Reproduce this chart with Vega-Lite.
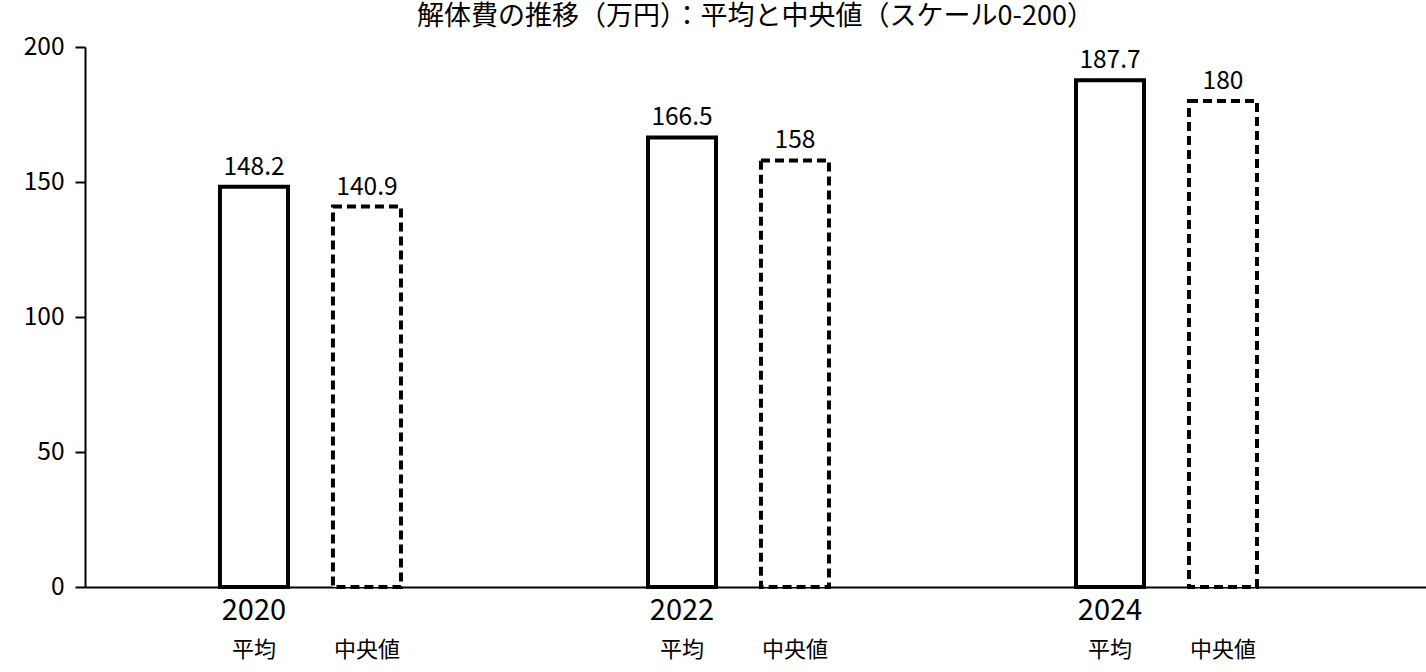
{
  "$schema": "https://vega.github.io/schema/vega-lite/v6.json",
  "autosize": "none",
  "width": 1341,
  "height": 540,
  "padding": {"left": 85, "top": 47, "right": 0, "bottom": 85},
  "background": "white",
  "config": {
    "font": "Noto Sans CJK JP",
    "view": {"stroke": null},
    "axis": {"labelColor": "black", "domainColor": "black", "tickColor": "black", "grid": false}
  },
  "title": {
    "text": "解体費の推移（万円）：平均と中央値（スケール0-200）",
    "fontSize": 27,
    "fontWeight": "normal",
    "color": "black",
    "anchor": "middle",
    "offset": 3
  },
  "data": {
    "values": [
      {"year": "2020", "type": "平均", "value": 148.2},
      {"year": "2020", "type": "中央値", "value": 140.9},
      {"year": "2022", "type": "平均", "value": 166.5},
      {"year": "2022", "type": "中央値", "value": 158},
      {"year": "2024", "type": "平均", "value": 187.7},
      {"year": "2024", "type": "中央値", "value": 180}
    ]
  },
  "encoding": {
    "x": {
      "field": "year",
      "type": "nominal",
      "scale": {"paddingInner": 0.5771, "paddingOuter": 0.3551, "align": 0.444},
      "axis": {
        "title": null,
        "ticks": false,
        "labelAngle": 0,
        "labelFontSize": 29,
        "labelOffset": -56.5,
        "labelPadding": 9,
        "domainWidth": 2
      }
    },
    "xOffset": {
      "field": "type",
      "type": "nominal",
      "sort": ["平均", "中央値"],
      "scale": {"paddingInner": 0.398, "paddingOuter": 0}
    }
  },
  "layer": [
    {
      "mark": {"type": "bar", "fill": "white", "stroke": "black", "strokeWidth": 4},
      "encoding": {
        "y": {
          "field": "value",
          "type": "quantitative",
          "scale": {"domain": [0, 200], "nice": false},
          "axis": {
            "title": null,
            "values": [0, 50, 100, 150, 200],
            "tickSize": 10,
            "tickWidth": 2,
            "domainWidth": 2,
            "labelFontSize": 24.5,
            "labelPadding": 11
          }
        },
        "strokeDash": {
          "field": "type",
          "type": "nominal",
          "scale": {"domain": ["平均", "中央値"], "range": [[1, 0], [9, 5]]},
          "legend": null
        }
      }
    },
    {
      "mark": {"type": "text", "fontSize": 24.5, "baseline": "bottom", "dy": -7, "color": "black"},
      "encoding": {
        "y": {"field": "value", "type": "quantitative"},
        "text": {"field": "value", "type": "nominal"}
      }
    },
    {
      "mark": {"type": "text", "fontSize": 22, "baseline": "middle", "dy": 63, "color": "black"},
      "encoding": {
        "y": {"datum": 0},
        "text": {"field": "type", "type": "nominal"}
      }
    }
  ]
}
